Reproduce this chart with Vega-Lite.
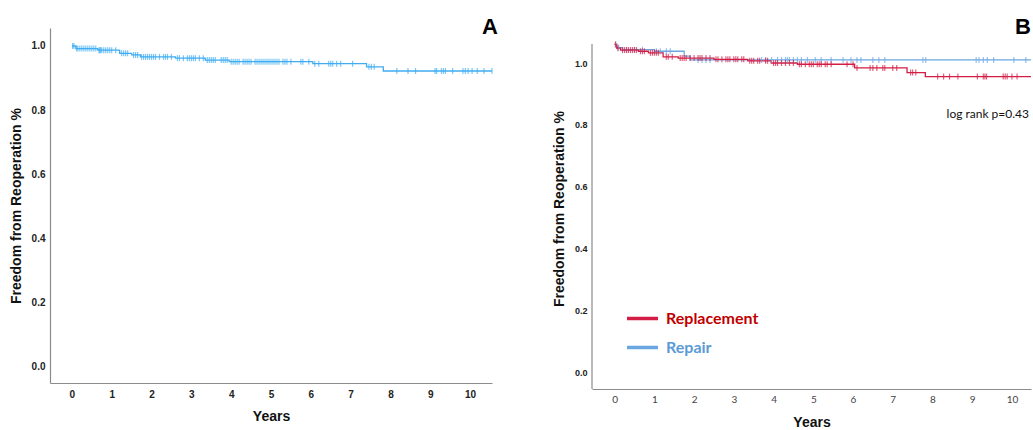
{
  "$schema": "https://vega.github.io/schema/vega-lite/v6.json",
  "padding": {"left": 9, "top": 15, "right": 0, "bottom": 0},
  "config": {"view": {"stroke": null}, "axis": {"grid": false, "ticks": false, "domainColor": "#8c8c8c", "domainWidth": 1.2}},
  "spacing": 54,
  "datasets": {
    "stepsA": [
      {"years": 0, "surv": 1.0}, {"years": 0.1, "surv": 0.992}, {"years": 0.65, "surv": 0.987}, {"years": 1.2, "surv": 0.977},
      {"years": 1.5, "surv": 0.972}, {"years": 1.72, "surv": 0.966}, {"years": 2.6, "surv": 0.962}, {"years": 3.35, "surv": 0.956},
      {"years": 3.95, "surv": 0.951}, {"years": 6.05, "surv": 0.945}, {"years": 7.4, "surv": 0.935}, {"years": 7.82, "surv": 0.922},
      {"years": 10.55, "surv": 0.922}
    ],
    "censA": [
      {"years": 0.02, "surv": 1.0}, {"years": 0.05, "surv": 1.0},
      {"years": 0.12, "surv": 0.992}, {"years": 0.15, "surv": 0.992}, {"years": 0.2, "surv": 0.992}, {"years": 0.25, "surv": 0.992}, {"years": 0.3, "surv": 0.992}, {"years": 0.35, "surv": 0.992}, {"years": 0.4, "surv": 0.992}, {"years": 0.45, "surv": 0.992}, {"years": 0.5, "surv": 0.992}, {"years": 0.55, "surv": 0.992}, {"years": 0.6, "surv": 0.992},
      {"years": 0.68, "surv": 0.987}, {"years": 0.7, "surv": 0.987}, {"years": 0.72, "surv": 0.987}, {"years": 0.75, "surv": 0.987}, {"years": 0.8, "surv": 0.987}, {"years": 0.85, "surv": 0.987}, {"years": 0.9, "surv": 0.987}, {"years": 0.95, "surv": 0.987}, {"years": 1.0, "surv": 0.987}, {"years": 1.1, "surv": 0.987},
      {"years": 1.25, "surv": 0.977}, {"years": 1.3, "surv": 0.977}, {"years": 1.35, "surv": 0.977}, {"years": 1.4, "surv": 0.977},
      {"years": 1.55, "surv": 0.972}, {"years": 1.6, "surv": 0.972}, {"years": 1.65, "surv": 0.972},
      {"years": 1.75, "surv": 0.966}, {"years": 1.8, "surv": 0.966}, {"years": 1.85, "surv": 0.966}, {"years": 1.9, "surv": 0.966}, {"years": 1.95, "surv": 0.966}, {"years": 2.0, "surv": 0.966}, {"years": 2.05, "surv": 0.966}, {"years": 2.1, "surv": 0.966}, {"years": 2.2, "surv": 0.966}, {"years": 2.3, "surv": 0.966}, {"years": 2.35, "surv": 0.966}, {"years": 2.4, "surv": 0.966}, {"years": 2.5, "surv": 0.966},
      {"years": 2.65, "surv": 0.962}, {"years": 2.7, "surv": 0.962}, {"years": 2.8, "surv": 0.962}, {"years": 2.9, "surv": 0.962}, {"years": 2.95, "surv": 0.962}, {"years": 3.0, "surv": 0.962}, {"years": 3.05, "surv": 0.962}, {"years": 3.1, "surv": 0.962}, {"years": 3.2, "surv": 0.962}, {"years": 3.3, "surv": 0.962},
      {"years": 3.4, "surv": 0.956}, {"years": 3.45, "surv": 0.956}, {"years": 3.5, "surv": 0.956}, {"years": 3.55, "surv": 0.956}, {"years": 3.6, "surv": 0.956}, {"years": 3.75, "surv": 0.956}, {"years": 3.8, "surv": 0.956}, {"years": 3.85, "surv": 0.956}, {"years": 3.9, "surv": 0.956},
      {"years": 4.0, "surv": 0.951}, {"years": 4.05, "surv": 0.951}, {"years": 4.1, "surv": 0.951}, {"years": 4.15, "surv": 0.951}, {"years": 4.2, "surv": 0.951}, {"years": 4.3, "surv": 0.951}, {"years": 4.35, "surv": 0.951}, {"years": 4.4, "surv": 0.951}, {"years": 4.45, "surv": 0.951}, {"years": 4.5, "surv": 0.951}, {"years": 4.6, "surv": 0.951}, {"years": 4.65, "surv": 0.951}, {"years": 4.7, "surv": 0.951}, {"years": 4.75, "surv": 0.951}, {"years": 4.8, "surv": 0.951}, {"years": 4.85, "surv": 0.951}, {"years": 4.9, "surv": 0.951}, {"years": 4.95, "surv": 0.951}, {"years": 5.0, "surv": 0.951}, {"years": 5.05, "surv": 0.951}, {"years": 5.1, "surv": 0.951}, {"years": 5.15, "surv": 0.951}, {"years": 5.2, "surv": 0.951}, {"years": 5.3, "surv": 0.951}, {"years": 5.35, "surv": 0.951}, {"years": 5.4, "surv": 0.951}, {"years": 5.5, "surv": 0.951}, {"years": 5.75, "surv": 0.951}, {"years": 5.8, "surv": 0.951}, {"years": 5.95, "surv": 0.951},
      {"years": 6.1, "surv": 0.945}, {"years": 6.2, "surv": 0.945}, {"years": 6.45, "surv": 0.945}, {"years": 6.5, "surv": 0.945}, {"years": 6.55, "surv": 0.945}, {"years": 6.65, "surv": 0.945}, {"years": 6.75, "surv": 0.945}, {"years": 7.05, "surv": 0.945},
      {"years": 7.46, "surv": 0.935}, {"years": 7.52, "surv": 0.935}, {"years": 7.59, "surv": 0.935},
      {"years": 8.16, "surv": 0.922}, {"years": 8.44, "surv": 0.922}, {"years": 8.63, "surv": 0.922}, {"years": 9.12, "surv": 0.922}, {"years": 9.16, "surv": 0.922}, {"years": 9.28, "surv": 0.922}, {"years": 9.33, "surv": 0.922}, {"years": 9.38, "surv": 0.922}, {"years": 9.56, "surv": 0.922}, {"years": 9.82, "surv": 0.922}, {"years": 9.88, "surv": 0.922}, {"years": 9.95, "surv": 0.922}, {"years": 10.05, "surv": 0.922}, {"years": 10.18, "surv": 0.922}, {"years": 10.35, "surv": 0.922}, {"years": 10.55, "surv": 0.922}
    ],
    "stepsB": [
      {"group": "Repair", "years": 0, "surv": 1.06}, {"group": "Repair", "years": 0.05, "surv": 1.05}, {"group": "Repair", "years": 0.2, "surv": 1.043}, {"group": "Repair", "years": 1.0, "surv": 1.038}, {"group": "Repair", "years": 1.75, "surv": 1.022}, {"group": "Repair", "years": 1.9, "surv": 1.01}, {"group": "Repair", "years": 10.48, "surv": 1.01},
      {"group": "Replacement", "years": 0, "surv": 1.06}, {"group": "Replacement", "years": 0.05, "surv": 1.048}, {"group": "Replacement", "years": 0.15, "surv": 1.042}, {"group": "Replacement", "years": 0.6, "surv": 1.038}, {"group": "Replacement", "years": 0.85, "surv": 1.033}, {"group": "Replacement", "years": 1.22, "surv": 1.02}, {"group": "Replacement", "years": 1.6, "surv": 1.016}, {"group": "Replacement", "years": 2.5, "surv": 1.012}, {"group": "Replacement", "years": 3.35, "surv": 1.007}, {"group": "Replacement", "years": 3.94, "surv": 1.0}, {"group": "Replacement", "years": 4.6, "surv": 0.996}, {"group": "Replacement", "years": 6.04, "surv": 0.984}, {"group": "Replacement", "years": 7.36, "surv": 0.969}, {"group": "Replacement", "years": 7.82, "surv": 0.956}, {"group": "Replacement", "years": 10.48, "surv": 0.956}
    ],
    "censB": [
      {"group": "Repair", "years": 0.03, "surv": 1.06}, {"group": "Repair", "years": 0.1, "surv": 1.05}, {"group": "Repair", "years": 0.3, "surv": 1.043}, {"group": "Repair", "years": 0.5, "surv": 1.043}, {"group": "Repair", "years": 0.7, "surv": 1.043},
      {"group": "Repair", "years": 1.05, "surv": 1.038}, {"group": "Repair", "years": 1.15, "surv": 1.038}, {"group": "Repair", "years": 1.3, "surv": 1.038}, {"group": "Repair", "years": 1.4, "surv": 1.038},
      {"group": "Repair", "years": 2.1, "surv": 1.01}, {"group": "Repair", "years": 2.2, "surv": 1.01}, {"group": "Repair", "years": 2.3, "surv": 1.01}, {"group": "Repair", "years": 2.4, "surv": 1.01}, {"group": "Repair", "years": 3.7, "surv": 1.01}, {"group": "Repair", "years": 3.8, "surv": 1.01}, {"group": "Repair", "years": 3.95, "surv": 1.01}, {"group": "Repair", "years": 4.1, "surv": 1.01}, {"group": "Repair", "years": 4.2, "surv": 1.01}, {"group": "Repair", "years": 4.3, "surv": 1.01}, {"group": "Repair", "years": 4.35, "surv": 1.01}, {"group": "Repair", "years": 4.4, "surv": 1.01}, {"group": "Repair", "years": 4.5, "surv": 1.01}, {"group": "Repair", "years": 4.6, "surv": 1.01}, {"group": "Repair", "years": 4.7, "surv": 1.01}, {"group": "Repair", "years": 4.85, "surv": 1.01}, {"group": "Repair", "years": 5.05, "surv": 1.01}, {"group": "Repair", "years": 5.2, "surv": 1.01}, {"group": "Repair", "years": 5.45, "surv": 1.01}, {"group": "Repair", "years": 5.75, "surv": 1.01}, {"group": "Repair", "years": 5.95, "surv": 1.01}, {"group": "Repair", "years": 6.1, "surv": 1.01}, {"group": "Repair", "years": 6.2, "surv": 1.01}, {"group": "Repair", "years": 6.5, "surv": 1.01}, {"group": "Repair", "years": 6.65, "surv": 1.01}, {"group": "Repair", "years": 6.8, "surv": 1.01}, {"group": "Repair", "years": 7.76, "surv": 1.01}, {"group": "Repair", "years": 7.83, "surv": 1.01}, {"group": "Repair", "years": 9.1, "surv": 1.01}, {"group": "Repair", "years": 9.17, "surv": 1.01}, {"group": "Repair", "years": 9.28, "surv": 1.01}, {"group": "Repair", "years": 9.38, "surv": 1.01}, {"group": "Repair", "years": 9.54, "surv": 1.01}, {"group": "Repair", "years": 10.05, "surv": 1.01}, {"group": "Repair", "years": 10.35, "surv": 1.01},
      {"group": "Replacement", "years": 0.02, "surv": 1.06}, {"group": "Replacement", "years": 0.08, "surv": 1.048}, {"group": "Replacement", "years": 0.2, "surv": 1.042}, {"group": "Replacement", "years": 0.25, "surv": 1.042}, {"group": "Replacement", "years": 0.3, "surv": 1.042}, {"group": "Replacement", "years": 0.35, "surv": 1.042}, {"group": "Replacement", "years": 0.4, "surv": 1.042}, {"group": "Replacement", "years": 0.45, "surv": 1.042}, {"group": "Replacement", "years": 0.5, "surv": 1.042}, {"group": "Replacement", "years": 0.55, "surv": 1.042},
      {"group": "Replacement", "years": 0.65, "surv": 1.038}, {"group": "Replacement", "years": 0.7, "surv": 1.038}, {"group": "Replacement", "years": 0.75, "surv": 1.038},
      {"group": "Replacement", "years": 0.9, "surv": 1.033}, {"group": "Replacement", "years": 0.95, "surv": 1.033}, {"group": "Replacement", "years": 1.0, "surv": 1.033}, {"group": "Replacement", "years": 1.05, "surv": 1.033}, {"group": "Replacement", "years": 1.1, "surv": 1.033},
      {"group": "Replacement", "years": 1.3, "surv": 1.02}, {"group": "Replacement", "years": 1.35, "surv": 1.02}, {"group": "Replacement", "years": 1.45, "surv": 1.02},
      {"group": "Replacement", "years": 1.65, "surv": 1.016}, {"group": "Replacement", "years": 1.7, "surv": 1.016}, {"group": "Replacement", "years": 1.75, "surv": 1.016}, {"group": "Replacement", "years": 1.8, "surv": 1.016}, {"group": "Replacement", "years": 1.9, "surv": 1.016}, {"group": "Replacement", "years": 2.0, "surv": 1.016}, {"group": "Replacement", "years": 2.1, "surv": 1.016}, {"group": "Replacement", "years": 2.15, "surv": 1.016}, {"group": "Replacement", "years": 2.2, "surv": 1.016}, {"group": "Replacement", "years": 2.3, "surv": 1.016}, {"group": "Replacement", "years": 2.4, "surv": 1.016},
      {"group": "Replacement", "years": 2.55, "surv": 1.012}, {"group": "Replacement", "years": 2.6, "surv": 1.012}, {"group": "Replacement", "years": 2.7, "surv": 1.012}, {"group": "Replacement", "years": 2.8, "surv": 1.012}, {"group": "Replacement", "years": 2.85, "surv": 1.012}, {"group": "Replacement", "years": 2.9, "surv": 1.012}, {"group": "Replacement", "years": 3.0, "surv": 1.012}, {"group": "Replacement", "years": 3.05, "surv": 1.012}, {"group": "Replacement", "years": 3.1, "surv": 1.012}, {"group": "Replacement", "years": 3.2, "surv": 1.012}, {"group": "Replacement", "years": 3.25, "surv": 1.012},
      {"group": "Replacement", "years": 3.4, "surv": 1.007}, {"group": "Replacement", "years": 3.45, "surv": 1.007}, {"group": "Replacement", "years": 3.5, "surv": 1.007}, {"group": "Replacement", "years": 3.6, "surv": 1.007}, {"group": "Replacement", "years": 3.65, "surv": 1.007}, {"group": "Replacement", "years": 3.8, "surv": 1.007}, {"group": "Replacement", "years": 3.85, "surv": 1.007},
      {"group": "Replacement", "years": 4.0, "surv": 1.0}, {"group": "Replacement", "years": 4.05, "surv": 1.0}, {"group": "Replacement", "years": 4.1, "surv": 1.0}, {"group": "Replacement", "years": 4.2, "surv": 1.0}, {"group": "Replacement", "years": 4.3, "surv": 1.0}, {"group": "Replacement", "years": 4.4, "surv": 1.0}, {"group": "Replacement", "years": 4.5, "surv": 1.0},
      {"group": "Replacement", "years": 4.65, "surv": 0.996}, {"group": "Replacement", "years": 4.7, "surv": 0.996}, {"group": "Replacement", "years": 4.8, "surv": 0.996}, {"group": "Replacement", "years": 4.9, "surv": 0.996}, {"group": "Replacement", "years": 4.95, "surv": 0.996}, {"group": "Replacement", "years": 5.0, "surv": 0.996}, {"group": "Replacement", "years": 5.1, "surv": 0.996}, {"group": "Replacement", "years": 5.15, "surv": 0.996}, {"group": "Replacement", "years": 5.2, "surv": 0.996}, {"group": "Replacement", "years": 5.3, "surv": 0.996}, {"group": "Replacement", "years": 5.35, "surv": 0.996}, {"group": "Replacement", "years": 5.45, "surv": 0.996}, {"group": "Replacement", "years": 5.85, "surv": 0.996}, {"group": "Replacement", "years": 6.0, "surv": 0.996},
      {"group": "Replacement", "years": 6.1, "surv": 0.984}, {"group": "Replacement", "years": 6.43, "surv": 0.984}, {"group": "Replacement", "years": 6.5, "surv": 0.984}, {"group": "Replacement", "years": 6.6, "surv": 0.984}, {"group": "Replacement", "years": 6.75, "surv": 0.984}, {"group": "Replacement", "years": 6.8, "surv": 0.984}, {"group": "Replacement", "years": 7.0, "surv": 0.984}, {"group": "Replacement", "years": 7.1, "surv": 0.984},
      {"group": "Replacement", "years": 7.45, "surv": 0.969}, {"group": "Replacement", "years": 7.5, "surv": 0.969}, {"group": "Replacement", "years": 7.58, "surv": 0.969},
      {"group": "Replacement", "years": 8.13, "surv": 0.956}, {"group": "Replacement", "years": 8.28, "surv": 0.956}, {"group": "Replacement", "years": 8.43, "surv": 0.956}, {"group": "Replacement", "years": 8.64, "surv": 0.956}, {"group": "Replacement", "years": 9.13, "surv": 0.956}, {"group": "Replacement", "years": 9.28, "surv": 0.956}, {"group": "Replacement", "years": 9.32, "surv": 0.956}, {"group": "Replacement", "years": 9.36, "surv": 0.956}, {"group": "Replacement", "years": 9.78, "surv": 0.956}, {"group": "Replacement", "years": 9.83, "surv": 0.956}, {"group": "Replacement", "years": 9.88, "surv": 0.956}, {"group": "Replacement", "years": 10.0, "surv": 0.956}, {"group": "Replacement", "years": 10.13, "surv": 0.956}
    ]
  },
  "hconcat": [
    {
      "width": 442,
      "height": 355,
      "layer": [
        {
          "data": {"name": "stepsA"},
          "mark": {"type": "line", "interpolate": "step-after", "color": "#3facf2", "strokeWidth": 1.3},
          "encoding": {
            "x": {"field": "years", "type": "quantitative", "scale": {"domain": [-0.55, 10.55], "nice": false, "zero": false},
              "axis": {"values": [0, 1, 2, 3, 4, 5, 6, 7, 8, 9, 10], "title": "Years", "labelFont": "Liberation Sans", "labelFontWeight": "bold", "labelFontSize": 10, "labelColor": "#222", "labelPadding": 6, "titleFont": "Liberation Sans", "titleFontSize": 14, "titleFontWeight": "bold", "titleColor": "#111", "titlePadding": 10}},
            "y": {"field": "surv", "type": "quantitative", "scale": {"domain": [-0.05, 1.056], "nice": false, "zero": false},
              "axis": {"values": [0, 0.2, 0.4, 0.6, 0.8, 1.0], "format": ".1f", "title": "Freedom from Reoperation %", "labelFont": "Liberation Sans", "labelFontWeight": "bold", "labelFontSize": 10, "labelColor": "#222", "labelPadding": 5, "titleFont": "Liberation Sans", "titleFontSize": 14, "titleFontWeight": "bold", "titleColor": "#111", "titlePadding": 8}}
          }
        },
        {
          "data": {"name": "censA"},
          "mark": {"type": "tick", "orient": "vertical", "color": "#3facf2", "size": 6, "thickness": 1.2},
          "encoding": {
            "x": {"field": "years", "type": "quantitative"},
            "y": {"field": "surv", "type": "quantitative"}
          }
        },
        {
          "data": {"values": [{}]},
          "mark": {"type": "text", "text": "A", "font": "Liberation Sans", "fontSize": 22, "fontWeight": "bold", "align": "center", "baseline": "middle", "color": "#000"},
          "encoding": {"x": {"datum": 10.5}, "y": {"datum": 1.059}}
        }
      ]
    },
    {
      "width": 439,
      "height": 361,
      "layer": [
        {
          "data": {"values": [{}]},
          "mark": {"type": "rule", "color": "#8c8c8c", "strokeWidth": 1.2},
          "encoding": {"x": {"datum": -0.57}, "y": {"datum": -0.055}, "y2": {"datum": 1.0615}}
        },
        {
          "data": {"name": "stepsB"},
          "mark": {"type": "line", "interpolate": "step-after", "strokeWidth": 1.3},
          "encoding": {
            "x": {"field": "years", "type": "quantitative", "scale": {"domain": [-0.57, 10.48], "nice": false, "zero": false},
              "axis": {"values": [0, 1, 2, 3, 4, 5, 6, 7, 8, 9, 10], "title": "Years", "labelFont": "Lato", "labelFontSize": 10, "labelColor": "#444", "labelPadding": 5, "titleFont": "Liberation Sans", "titleFontSize": 14, "titleFontWeight": "bold", "titleColor": "#111", "titlePadding": 11}},
            "y": {"field": "surv", "type": "quantitative", "scale": {"domain": [-0.055, 1.1133], "nice": false, "zero": false},
              "axis": {"domain": false, "values": [0, 0.2, 0.4, 0.6, 0.8, 1.0], "format": ".1f", "title": "Freedom from Reoperation %", "labelFont": "Liberation Sans", "labelFontWeight": "bold", "labelFontSize": 9, "labelColor": "#222", "labelPadding": 5, "titleFont": "Liberation Sans", "titleFontSize": 14, "titleFontWeight": "bold", "titleColor": "#111", "titlePadding": 8}},
            "color": {"field": "group", "type": "nominal", "scale": {"domain": ["Replacement", "Repair"], "range": ["#d31d45", "#6aa7e2"]},
              "legend": {"orient": "none", "legendX": 575, "legendY": 273, "title": null, "symbolType": "stroke", "symbolSize": 961, "symbolStrokeWidth": 3.5, "labelFont": "Lato", "labelFontSize": 16, "labelFontWeight": "bold", "labelOffset": 6, "rowPadding": 3, "padding": 0,
                "encode": {
                  "labels": {"update": {"fill": {"signal": "datum.value === 'Replacement' ? '#c00000' : '#5b9bd5'"}}},
                  "symbols": {"update": {"stroke": {"signal": "datum.value === 'Replacement' ? '#c00000' : '#5b9bd5'"}}}
                }}},
            "order": {"field": "years", "type": "quantitative"}
          }
        },
        {
          "data": {"name": "censB"},
          "mark": {"type": "tick", "orient": "vertical", "size": 6, "thickness": 1.2},
          "encoding": {
            "x": {"field": "years", "type": "quantitative"},
            "y": {"field": "surv", "type": "quantitative"},
            "color": {"field": "group", "type": "nominal"}
          }
        },
        {
          "data": {"values": [{}]},
          "mark": {"type": "text", "text": "log rank p=0.43", "font": "Lato", "fontSize": 12, "align": "right", "baseline": "middle", "color": "#111"},
          "encoding": {"x": {"datum": 10.43}, "y": {"datum": 0.835}}
        },
        {
          "data": {"values": [{}]},
          "mark": {"type": "text", "text": "B", "font": "Liberation Sans", "fontSize": 22, "fontWeight": "bold", "align": "right", "baseline": "middle", "color": "#000"},
          "encoding": {"x": {"datum": 10.48}, "y": {"datum": 1.117}}
        }
      ]
    }
  ]
}
